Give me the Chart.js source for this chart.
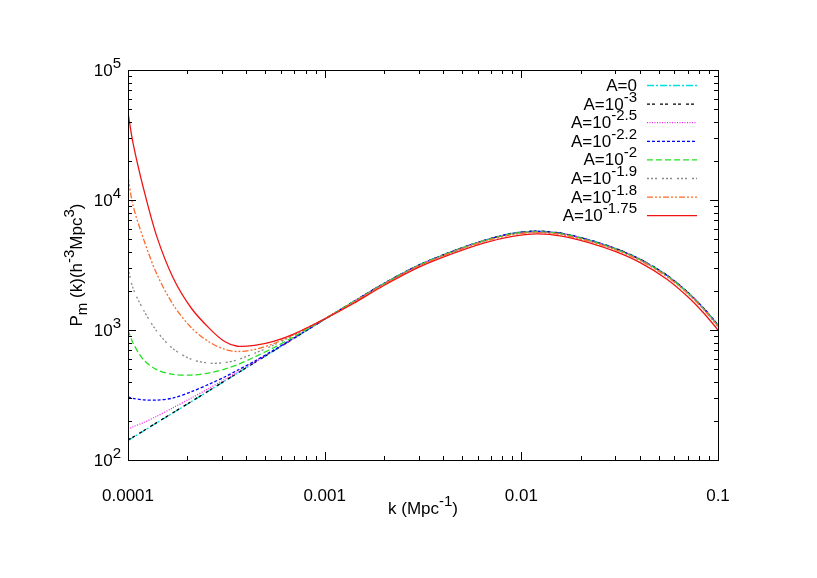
<!DOCTYPE html>
<html>
<head>
<meta charset="utf-8">
<script src="https://cdn.jsdelivr.net/npm/chart.js@4.4.1/dist/chart.umd.min.js"></script>
<style>
  body { margin: 0; background: #fff; }
  #wrap { width: 817px; height: 578px; }
</style>
</head>
<body>
<div id="wrap"><canvas id="pk"></canvas></div>
<script>
// k values (Mpc^-1), shared by every curve
const kValues = [1e-4, 1.06e-4, 1.2e-4, 1.4e-4, 1.7e-4, 2.1e-4, 2.6e-4, 3.1e-4, 3.6e-4, 4.4e-4, 5.5e-4, 7e-4,
  1e-3, 1.4e-3, 2e-3, 3e-3, 4.5e-3, 6.5e-3, 9e-3, 1.2e-2, 1.6e-2, 2.2e-2, 3e-2, 4e-2, 5.5e-2, 7e-2, 8.5e-2, 0.1]

// P_m(k), one array per A
const pA0    = [141, 149, 167, 193, 231, 281, 343, 404, 465, 560, 690, 865, 1210, 1650, 2280, 3150, 4050, 4900, 5550, 5760, 5550, 4950, 4250, 3520, 2640, 1960, 1460, 1090]
const pA3    = [143, 150, 168, 194, 232, 282, 344, 405, 466, 561, 690, 865, 1210, 1650, 2280, 3150, 4050, 4900, 5550, 5760, 5550, 4950, 4250, 3520, 2640, 1960, 1460, 1090]
const pA25   = [172, 180, 194, 217, 253, 300, 358, 416, 474, 566, 694, 867, 1210, 1650, 2278, 3148, 4046, 4895, 5540, 5750, 5540, 4940, 4240, 3513, 2635, 1956, 1457, 1088]
const pA22   = [305, 298, 290, 289, 300, 335, 385, 435, 490, 575, 700, 872, 1212, 1648, 2275, 3143, 4040, 4888, 5522, 5731, 5522, 4925, 4229, 3502, 2627, 1950, 1453, 1085]
const pA2    = [1000, 795, 590, 495, 455, 450, 468, 500, 540, 620, 730, 890, 1215, 1645, 2270, 3136, 4030, 4875, 5495, 5702, 5495, 4900, 4208, 3485, 2614, 1940, 1445, 1079]
const pA19   = [2990, 2100, 1420, 980, 715, 595, 556, 561, 590, 662, 765, 912, 1220, 1640, 2262, 3125, 4015, 4855, 5467, 5674, 5467, 4876, 4186, 3467, 2600, 1931, 1438, 1074]
const pA18   = [15100, 9100, 5000, 2700, 1560, 1040, 805, 711, 683, 708, 786, 925, 1225, 1630, 2245, 3100, 3980, 4810, 5411, 5616, 5411, 4826, 4144, 3432, 2574, 1911, 1424, 1063]
const pA175  = [47000, 27500, 12200, 5250, 2500, 1470, 1025, 815, 750, 762, 818, 935, 1215, 1600, 2200, 3030, 3880, 4680, 5250, 5480, 5280, 4700, 4020, 3310, 2460, 1810, 1340, 1000]

const legendBase = ['A=0', 'A=10', 'A=10', 'A=10', 'A=10', 'A=10', 'A=10', 'A=10']
const legendExp  = ['', '-3', '-2.5', '-2.2', '-2', '-1.9', '-1.8', '-1.75']
const yTickExp = [2, 3, 4, 5]
const xTickLabels = [0.0001, 0.001, 0.01, 0.1]

const series = [pA0, pA3, pA25, pA22, pA2, pA19, pA18, pA175]
const colors = ['#00e0e0', '#000000', '#f020f0', '#0000ff', '#22e022', '#8a8a8a', '#ff6a2a', '#f01414']
const dashes = [[7, 2, 2, 2], [3, 2, 3, 5], [1, 1.5], [3, 2], [6, 3], [2, 2, 2, 2, 2, 5], [6, 2, 2, 2, 2, 2], []]

const FONT = 'Liberation Sans, Arial, sans-serif'

function pts(arr) {
    return kValues.map((k, i) => ({ x: k, y: arr[i] }))
}

// text with raised/lowered pieces: parts = [[text, kind]] kind: 0 normal, 1 sup, -1 sub
function richWidth(ctx, parts) {
    let w = 0
    for (const [t, kind] of parts) {
        ctx.font = (kind ? 15 : 17) + 'px ' + FONT
        w += ctx.measureText(t).width
    }
    return w
}
function drawRich(ctx, parts, x, y) {
    for (const [t, kind] of parts) {
        ctx.font = (kind ? 15 : 17) + 'px ' + FONT
        let dy = kind == 1 ? -8 : kind == -1 ? 5 : 0
        ctx.fillText(t, x, y + dy)
        x += ctx.measureText(t).width
    }
}

const gnuplotFrame = {
    id: 'gnuplotFrame',
    afterDraw(chart) {
        const { ctx, chartArea: a, scales } = chart
        const xs = scales.x, ys = scales.y
        ctx.save()
        ctx.strokeStyle = '#000'
        ctx.lineWidth = 1
        ctx.strokeRect(Math.round(a.left) + 0.5, Math.round(a.top) + 0.5, Math.round(a.right - a.left), Math.round(a.bottom - a.top))

        ctx.beginPath()
        for (let e = -4; e <= -1; e++) {
            for (let m = 1; m <= 9; m++) {
                const v = m * Math.pow(10, e)
                if (v > 0.1000001) break
                const px = Math.round(xs.getPixelForValue(v)) + 0.5
                const len = m == 1 ? 8 : 4
                ctx.moveTo(px, a.bottom); ctx.lineTo(px, a.bottom - len)
                ctx.moveTo(px, a.top); ctx.lineTo(px, a.top + len)
            }
        }
        for (let e = 2; e <= 5; e++) {
            for (let m = 1; m <= 9; m++) {
                const v = m * Math.pow(10, e)
                if (v > 100001) break
                const py = Math.round(ys.getPixelForValue(v)) + 0.5
                const len = m == 1 ? 8 : 4
                ctx.moveTo(a.left, py); ctx.lineTo(a.left + len, py)
                ctx.moveTo(a.right, py); ctx.lineTo(a.right - len, py)
            }
        }
        ctx.stroke()

        // y tick labels 10^n
        ctx.fillStyle = '#000'
        ctx.textBaseline = 'alphabetic'
        ctx.textAlign = 'left'
        for (const e of yTickExp) {
            const py = ys.getPixelForValue(Math.pow(10, e))
            const parts = [['10', 0], [String(e), 1]]
            const w = richWidth(ctx, parts)
            drawRich(ctx, parts, a.left - 7 - w, py + 6)
        }

        // x title
        const xt = [['k (Mpc', 0], ['-1', 1], [')', 0]]
        const xw = richWidth(ctx, xt)
        drawRich(ctx, xt, (a.left + a.right) / 2 - xw / 2, 514)

        // y title, rotated
        const yt = [['P', 0], ['m', -1], [' (k)(h', 0], ['-3', 1], ['Mpc', 0], ['3', 1], [')', 0]]
        const yw = richWidth(ctx, yt)
        ctx.save()
        ctx.translate(82, (a.top + a.bottom) / 2)
        ctx.rotate(-Math.PI / 2)
        drawRich(ctx, yt, -yw / 2, 0)
        ctx.restore()

        // key, right-justified text with line samples
        for (let i = 0; i < legendBase.length; i++) {
            const yy = 85 + i * 18.6
            const parts = [[legendBase[i], 0]]
            if (legendExp[i]) parts.push([legendExp[i], 1])
            const w = richWidth(ctx, parts)
            drawRich(ctx, parts, 637 - w, yy + 6)
            ctx.beginPath()
            ctx.strokeStyle = colors[i]
            ctx.lineWidth = 1.3
            ctx.setLineDash(dashes[i])
            ctx.moveTo(647, yy + 0.5)
            ctx.lineTo(697, yy + 0.5)
            ctx.stroke()
            ctx.setLineDash([])
        }
        ctx.restore()
    }
}

const datasets = series.map((arr, i) => ({
    label: legendBase[i] + legendExp[i],
    data: pts(arr),
    borderColor: colors[i],
    borderDash: dashes[i],
    borderWidth: 1.3,
    pointRadius: 0,
    tension: 0.3,
    fill: false,
    order: series.length - i
}))

const config = {
    type: 'line',
    data: { datasets: datasets },
    options: {
        responsive: false,
        animation: false,
        layout: { padding: { top: 70, right: 99, left: 0, bottom: 0 } },
        plugins: { legend: { display: false }, tooltip: { enabled: false } },
        scales: {
            x: {
                type: 'logarithmic',
                min: 1e-4,
                max: 0.1,
                grid: { display: false },
                border: { display: false },
                afterBuildTicks: s => { s.ticks = xTickLabels.map(v => ({ value: v })) },
                afterFit: s => { s.height = 118 },
                ticks: {
                    autoSkip: false,
                    maxRotation: 0,
                    padding: 18,
                    color: '#000',
                    font: { family: FONT, size: 17 },
                    callback: v => String(v)
                }
            },
            y: {
                type: 'logarithmic',
                min: 100,
                max: 100000,
                grid: { display: false },
                border: { display: false },
                ticks: { display: false },
                afterFit: s => { s.width = 128 }
            }
        }
    },
    plugins: [gnuplotFrame]
}

const cv = document.getElementById('pk')
cv.width = 817
cv.height = 578
let chart = new Chart(cv, config)
</script>
</body>
</html>
